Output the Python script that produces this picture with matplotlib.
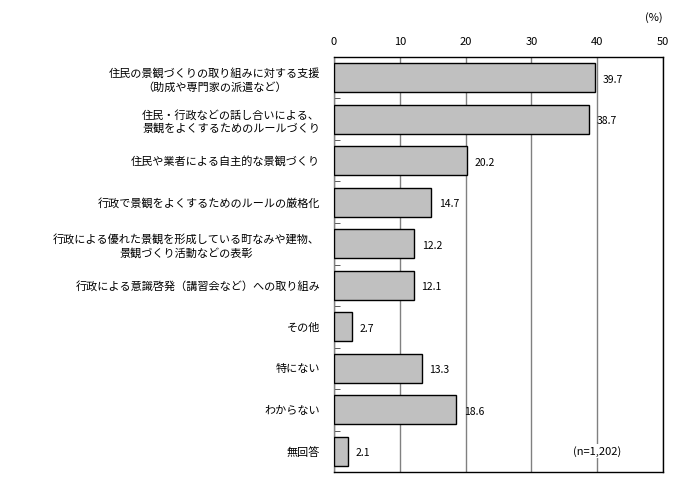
import matplotlib.pyplot as plt
import numpy as np

plt.rcParams['font.family'] = ['Noto Sans CJK JP', 'DejaVu Sans']

labels = [
    '住民の景観づくりの取り組みに対する支援\n（助成や専門家の派遣など）',
    '住民・行政などの話し合いによる、\n景観をよくするためのルールづくり',
    '住民や業者による自主的な景観づくり',
    '行政で景観をよくするためのルールの厳格化',
    '行政による優れた景観を形成している町なみや建物、\n景観づくり活動などの表彰',
    '行政による意識啓発（講習会など）への取り組み',
    'その他',
    '特にない',
    'わからない',
    '無回答',
]
values = [39.7, 38.7, 20.2, 14.7, 12.2, 12.1, 2.7, 13.3, 18.6, 2.1]
xticks = [0, 10, 20, 30, 40, 50]

fig = plt.figure(figsize=(6.78, 4.90), dpi=100)
ax = fig.add_axes([334 / 678, 1 - 472 / 490, (663 - 334) / 678, (472 - 57) / 490])

y = np.arange(len(values))
ax.barh(y, values, height=0.7, color='#c0c0c0', edgecolor='black', linewidth=1, zorder=3)
for yi, v in zip(y, values):
    ax.text(v + 1.2, yi + 0.05, f'{v:.1f}', va='center', ha='left', fontsize=7.5)

ax.set_xlim(0, 50)
ax.set_ylim(len(values) - 0.5, -0.5)
ax.set_xticks(xticks)
ax.xaxis.tick_top()
ax.tick_params(axis='x', length=0, labelsize=8, pad=7)
ax.grid(axis='x', color='#808080', linewidth=1, zorder=0)

ax.set_yticks(y)
ax.set_yticklabels(labels, fontsize=8, multialignment='center', linespacing=1.35)
ax.tick_params(axis='y', which='major', length=0, pad=10)
ax.set_yticks(np.arange(-0.5, len(values), 1), minor=True)
ax.tick_params(axis='y', which='minor', length=4, direction='in', color='#404040')

for s in ax.spines.values():
    s.set_linewidth(1)
ax.spines['left'].set_color('#808080')

fig.text(663 / 678, 1 - 18 / 490, '(%)', ha='right', va='center', fontsize=8)
ax.text(40, 9, '(n=1,202)', ha='center', va='center', fontsize=8, zorder=4,
        bbox=dict(facecolor='white', edgecolor='none', pad=1))

fig.savefig('out.png', dpi=100)
